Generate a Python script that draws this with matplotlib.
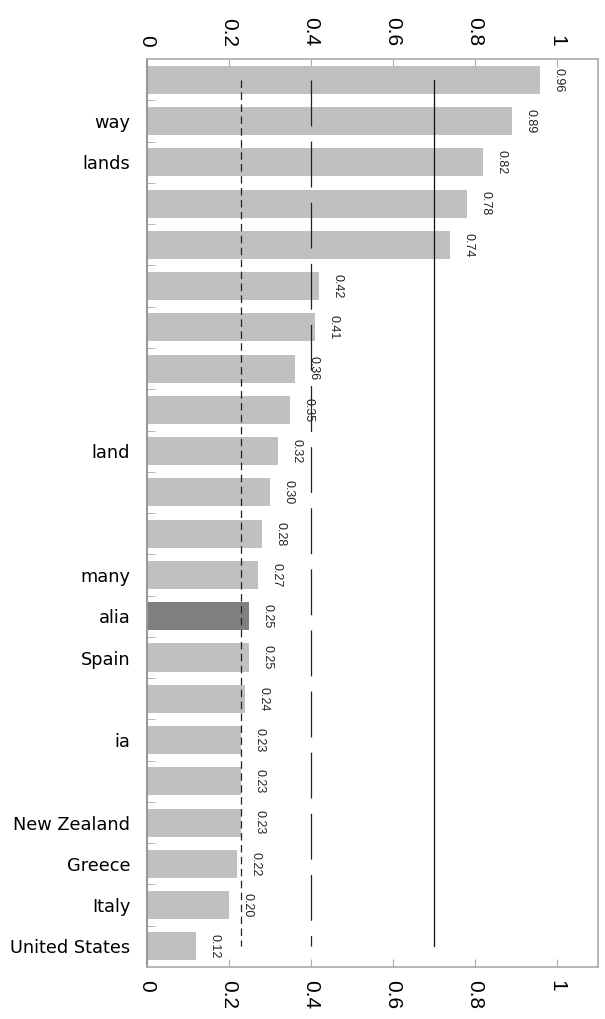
import matplotlib
matplotlib.use("Agg")
import matplotlib.pyplot as plt

labels = ["", "way", "lands", "", "", "", "", "", "", "land", "", "",
          "many", "alia", "Spain", "", "ia", "", "New Zealand", "Greece",
          "Italy", "United States"]
values = [0.96, 0.89, 0.82, 0.78, 0.74, 0.42, 0.41, 0.36, 0.35, 0.32, 0.30,
          0.28, 0.27, 0.25, 0.25, 0.24, 0.23, 0.23, 0.23, 0.22, 0.20, 0.12]
highlight = "alia"
ref_short = 0.23   # short dashed line
ref_long = 0.4     # long dashed line
ref_solid = 0.7    # solid line
xticks = [0, 0.2, 0.4, 0.6, 0.8, 1]
xticklabels = ["0", "0.2", "0.4", "0.6", "0.8", "1"]

plt.rcParams['lines.scale_dashes'] = False

fig = plt.figure(figsize=(6.05, 10.19), dpi=100)
ax = fig.add_axes([0.243, 0.051, 0.745, 0.891])

pos = list(range(len(values)))
colors = ["#808080" if l == highlight else "#c0c0c0" for l in labels]
ax.barh(pos, values, height=0.68, color=colors, zorder=2)

# reference lines from first to last bar centre
ax.plot([ref_short, ref_short], [pos[0], pos[-1]], color="#222222", lw=0.9,
        linestyle=(0, (5.4, 3.2)), zorder=3)
ax.plot([ref_long, ref_long], [pos[0], pos[-1]], color="#222222", lw=0.9,
        linestyle=(0, (33, 11)), zorder=3)
ax.plot([ref_solid, ref_solid], [pos[0], pos[-1]], color="#111111", lw=0.9,
        zorder=3)

for p, v in zip(pos, values):
    ax.annotate("%.2f" % v, (v, p), xytext=(9, 0), textcoords="offset points",
                rotation=-90, ha="left", va="center", fontsize=9,
                family="Liberation Sans", color="#222222")

ax.set_xlim(0, 1.1)
ax.set_ylim(len(values) - 0.5, -0.5)

ax.set_xticks(xticks)
ax.set_xticklabels(xticklabels, rotation=-90, family="Liberation Sans",
                   fontsize=15)
ax.tick_params(axis="x", top=True, labeltop=True, direction="in", length=6,
               color="#aaaaaa", pad=9)

ax.set_yticks(pos)
ax.set_yticklabels(labels, family="DejaVu Sans", fontsize=12.8)
ax.tick_params(axis="y", length=0, pad=12)
ax.set_yticks([p + 0.5 for p in pos[:-1]], minor=True)
ax.tick_params(axis="y", which="minor", direction="in", length=6,
               color="#aaaaaa")

for s in ["top", "right", "bottom"]:
    ax.spines[s].set_color("#aaaaaa")
    ax.spines[s].set_linewidth(1.2)
ax.spines["left"].set_color("#999999")
ax.spines["left"].set_linewidth(1.5)

fig.savefig("out.png", dpi=100)
